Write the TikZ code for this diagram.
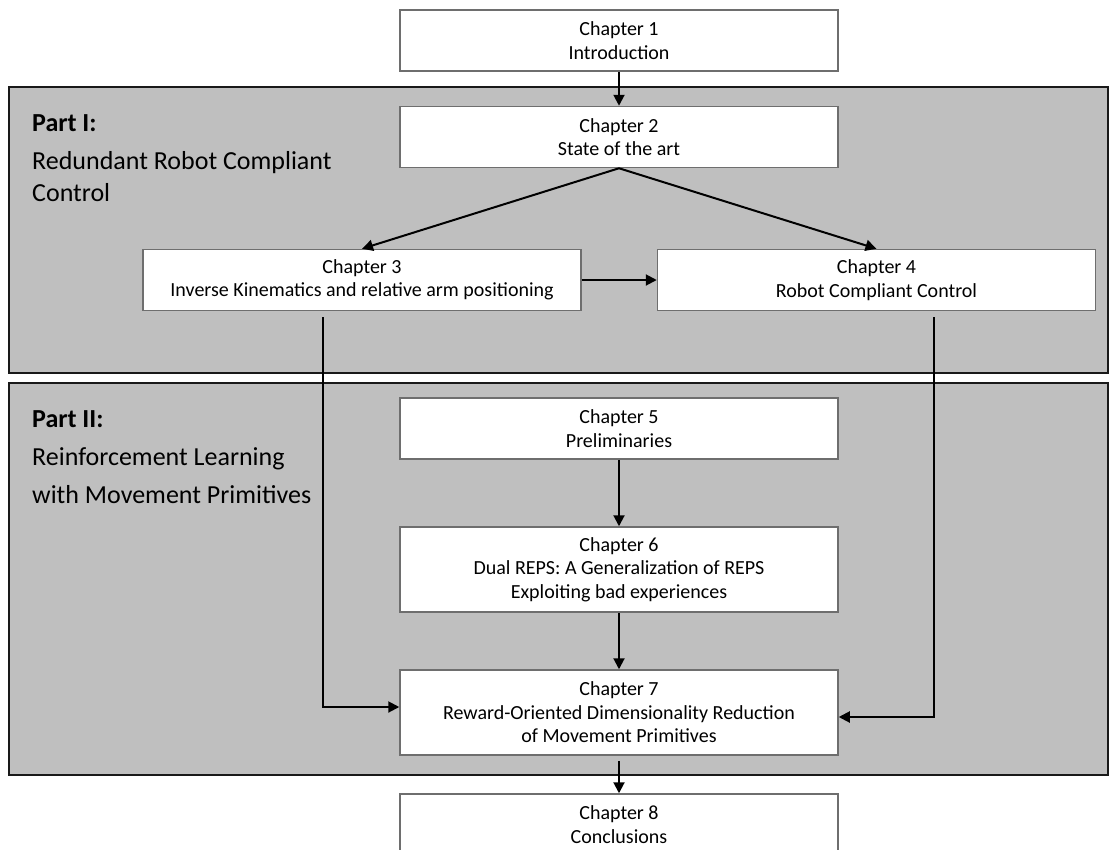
\documentclass[tikz,border=0pt]{standalone}
\usepackage{fontspec}
\setmainfont{Carlito}
\usepackage{tikz}
\usetikzlibrary{arrows.meta}
\definecolor{partgray}{HTML}{BFBFBF}
\definecolor{boxedge}{HTML}{6E6E6E}

\begin{document}
\begin{tikzpicture}[x=1pt, y=-1pt,
		chapbox/.style={draw=boxedge, line width=1.5pt, fill=white, minimum width=438pt, minimum height=61pt, inner sep=0pt, align=center, font=\fontsize{20}{23.5}\selectfont},
		partband/.style={draw=black!90, line width=2pt, fill=partgray},
		partlbl/.style={anchor=base west, inner sep=0pt, font=\fontsize{26}{30}\selectfont},
		arr/.style={-{Triangle[length=11pt,width=11pt]}, line width=2pt}]
			\clip (0,0) rectangle (1110,849);
			\fill[white] (0,0) rectangle (1110,849);
			
			% the two parts
			\draw[partband] (9,87) rectangle (1108,373);
			\draw[partband] (9,383) rectangle (1108,775);
			
			\node[partlbl] (p1t) at (32,131) {\textbf{Part I:}};
			\node[partlbl] (p1a) at (32,169) {Redundant Robot Compliant};
			\node[partlbl] (p1b) at (32,201) {Control};
			
			\node[partlbl] (p2t) at (32,427) {\textbf{Part II:}};
			\node[partlbl] (p2a) at (32,465) {Reinforcement Learning};
			\node[partlbl] (p2b) at (32,503) {with Movement Primitives};
			
			% chapters
			\node[chapbox] (c1) at (619,40.5) {Chapter 1\\Introduction};
			\node[chapbox] (c2) at (619,137) {Chapter 2\\State of the art};
			\node[chapbox] (c3) at (362,280) {Chapter 3\\Inverse Kinematics and relative arm positioning};
			\node[chapbox] (c4) at (876.5,280) {Chapter 4\\Robot Compliant Control};
			\node[chapbox] (c5) at (619,428.5) {Chapter 5\\Preliminaries};
			\node[chapbox, minimum height=85pt] (c6) at (619,569.5) {Chapter 6\\Dual REPS: A Generalization of REPS\\Exploiting bad experiences};
			\node[chapbox, minimum height=85pt] (c7) at (619,712.5) {Chapter 7\\Reward-Oriented Dimensionality Reduction\\of Movement Primitives};
			\node[chapbox] (c8) at (619,824.5) {Chapter 8\\Conclusions};
			
			% connectors
			\coordinate (l3) at (323,317);
			\coordinate (r4) at (934,317);
			
			\draw[arr] (c1) -- (c2);
			\draw[arr] (c2.south) -- (c3.north);
			\draw[arr] (c2.south) -- (c4.north);
			\draw[arr] (c3) -- (c4);
			\draw[arr] (l3) |- ([yshift=5.5pt]c7.west);
			\draw[arr] (r4) |- ([yshift=-4.5pt]c7.east);
			\draw[arr] (c5) -- (c6);
			\draw[arr] (c6) -- (c7);
			\draw[arr, shorten <=5pt] (c7) -- (c8);
\end{tikzpicture}
\end{document}
